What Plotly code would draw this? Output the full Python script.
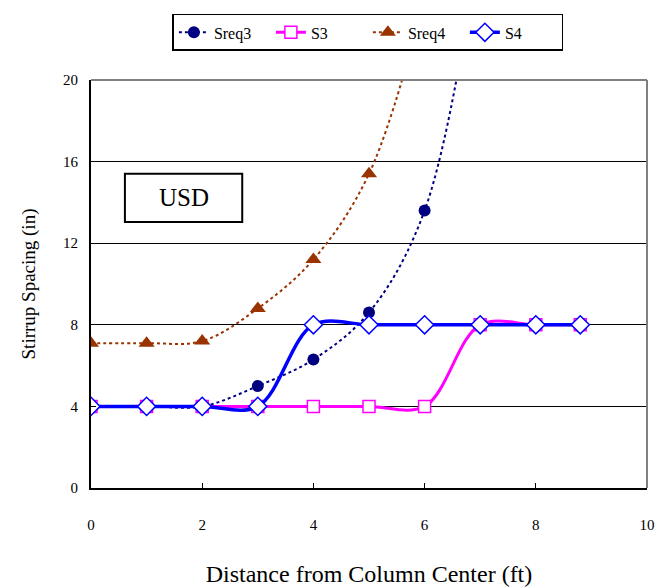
import plotly.graph_objects as go

# Data
x_req3 = [0, 1, 2, 3, 4, 5, 6, 7]
sreq3 = [4.0, 4.0, 4.0, 5.0, 6.3, 8.6, 13.6, 27.0]
x_s3 = [0, 1, 2, 3, 4, 5, 6, 7, 8, 8.8]
s3 = [4, 4, 4, 4, 4, 4, 4, 8, 8, 8]
x_req4 = [0, 1, 2, 3, 4, 5, 6]
sreq4 = [7.1, 7.1, 7.2, 8.8, 11.2, 15.4, 24.0]
x_s4 = [0, 1, 2, 3, 4, 5, 6, 7, 8, 8.8]
s4 = [4, 4, 4, 4, 8, 8, 8, 8, 8, 8]
x_ticks = [0, 2, 4, 6, 8, 10]
y_ticks = [0, 4, 8, 12, 16, 20]

FONT = "Liberation Serif, Times New Roman, serif"

fig = go.Figure()
fig.add_trace(go.Scatter(
    x=x_req3, y=sreq3, name="Sreq3", mode="lines+markers",
    line=dict(color="#000080", width=2, dash="dot", shape="spline", smoothing=1),
    marker=dict(symbol="circle", size=12, color="#000080")))
fig.add_trace(go.Scatter(
    x=x_s3, y=s3, name="S3", mode="lines+markers",
    line=dict(color="#FF00FF", width=3, shape="spline", smoothing=1),
    marker=dict(symbol="square", size=12, color="white", line=dict(color="#FF00FF", width=1.5))))
fig.add_trace(go.Scatter(
    x=x_req4, y=sreq4, name="Sreq4", mode="lines+markers",
    line=dict(color="#993300", width=2, dash="dot", shape="spline", smoothing=1),
    marker=dict(symbol="triangle-up", size=14, color="#993300")))
fig.add_trace(go.Scatter(
    x=x_s4, y=s4, name="S4", mode="lines+markers",
    line=dict(color="#0000FF", width=3.5, shape="spline", smoothing=1),
    marker=dict(symbol="diamond", size=14, color="white", line=dict(color="#0000FF", width=1.5))))

fig.update_layout(
    width=666, height=587,
    margin=dict(l=91, r=19, t=80, b=99),
    paper_bgcolor="white", plot_bgcolor="white",
    font=dict(family=FONT, color="black"),
    showlegend=True,
    legend=dict(orientation="h", x=0.498, xanchor="center", y=1.162, yanchor="top",
                bordercolor="black", borderwidth=1.5, font=dict(size=16, family=FONT),
                tracegroupgap=0, entrywidth=52, entrywidthmode="pixels"),
    xaxis=dict(range=[0, 10], tickvals=x_ticks, showgrid=False, zeroline=False,
               showline=True, linecolor="black", linewidth=2,
               ticks="inside", ticklen=5, tickcolor="black",
               ticklabelstandoff=22, tickfont=dict(size=15, family=FONT),
               automargin=False,
               title=dict(text="Distance from Column Center (ft)", font=dict(size=24, family=FONT), standoff=34)),
    yaxis=dict(range=[0, 20], tickvals=y_ticks, showgrid=True, gridcolor="black", gridwidth=1,
               zeroline=False, showline=True, linecolor="black", linewidth=2,
               ticks="inside", ticklen=5, tickcolor="black",
               ticklabelstandoff=8, tickfont=dict(size=15, family=FONT),
               automargin=False,
               title=dict(text="Stirrup Spacing (in)", font=dict(size=19, family=FONT), standoff=22)),
    shapes=[
        dict(type="line", xref="paper", yref="paper", x0=0, x1=1, y0=1, y1=1,
             line=dict(color="#808080", width=2), layer="above"),
        dict(type="line", xref="paper", yref="paper", x0=1, x1=1, y0=0, y1=1,
             line=dict(color="#808080", width=2), layer="above"),
        dict(type="rect", xref="paper", yref="paper", x0=0.061, x1=0.272, y0=0.652, y1=0.770,
             line=dict(color="black", width=2), fillcolor="white", layer="above"),
    ],
    annotations=[
        dict(text="USD", xref="paper", yref="paper", x=0.1665, y=0.711, showarrow=False,
             font=dict(size=25, family=FONT, color="black"), xanchor="center", yanchor="middle"),
    ],
)

fig.write_html("out.html", config={"displayModeBar": False},
               post_script="document.body.style.margin='0';document.body.style.padding='0';")
